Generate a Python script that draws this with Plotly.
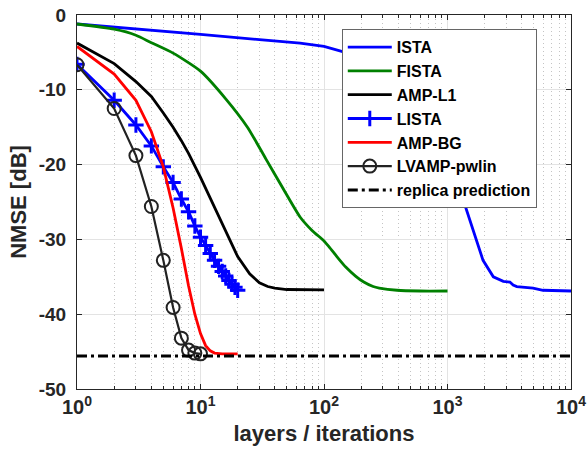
import plotly.graph_objects as go

# ---------------- data ----------------
ista_x = [1, 2, 4, 10, 30, 64, 100, 140, 200, 300, 400, 500, 600, 700, 800, 900,
          1000, 1200, 1340, 1620, 1940, 2350, 2830, 3200, 3400, 3640, 4930, 5930, 10000]
ista_y = [-1.2, -1.6, -2.05, -2.6, -3.3, -3.75, -4.2, -4.9, -5.6, -6.8, -8.2, -9.8,
          -11.5, -13.2, -15.0, -16.9, -18.7, -22.3, -24.7, -28.7, -32.8, -35.0,
          -35.6, -35.7, -36.1, -36.3, -36.5, -36.8, -36.9]

fista_x = [1, 2, 3, 4, 6, 10, 16, 24, 34, 47, 64, 80, 100, 110, 130, 150, 180,
           210, 250, 280, 390, 600, 1000]
fista_y = [-1.2, -1.9, -2.7, -3.7, -5.1, -7.5, -11.2, -15.0, -19.3, -23.3, -27.0,
           -28.8, -30.2, -31.0, -32.5, -33.7, -34.9, -35.7, -36.3, -36.5, -36.8,
           -36.9, -36.9]

ampl1_x = [1, 2, 3, 4, 5, 6, 7, 8, 10, 12, 14, 17, 20, 25, 30, 35, 40, 50, 70, 100]
ampl1_y = [-3.75, -6.5, -8.9, -10.9, -13.1, -15.0, -16.8, -18.5, -21.7, -24.5,
           -26.9, -30.0, -32.3, -34.6, -35.8, -36.3, -36.5, -36.7, -36.75, -36.75]

lista_x = list(range(1, 21))
lista_y = [-6.6, -11.4, -14.7, -17.5, -20.3, -22.4, -24.6, -26.3, -28.2, -29.7,
           -30.8, -31.9, -32.8, -33.6, -34.3, -34.9, -35.5, -36.0, -36.4, -36.8]

ampbg_x = list(range(1, 21))
ampbg_y = [-4.2, -7.9, -11.4, -15.6, -20.3, -25.8, -31.2, -36.2, -40.0, -42.6,
           -44.2, -44.9, -45.2, -45.3, -45.3, -45.3, -45.3, -45.3, -45.3, -45.3]

lvamp_x = list(range(1, 11))
lvamp_y = [-6.65, -12.5, -18.8, -25.6, -32.8, -39.1, -43.2, -44.8, -45.2, -45.3]

replica_x = [1, 10000]
replica_y = [-45.6, -45.6]

x_tickvals = [1, 10, 100, 1000, 10000]
x_ticktext = ["10<sup>0</sup>", "10<sup>1</sup>", "10<sup>2</sup>",
              "10<sup>3</sup>", "10<sup>4</sup>"]
y_tickvals = [0, -10, -20, -30, -40, -50]
y_ticktext = ["0", "-10", "-20", "-30", "-40", "-50"]

# ---------------- figure ----------------
FONT = "Liberation Sans, Arial, Helvetica, sans-serif"
AX = "#262626"

fig = go.Figure()
fig.add_trace(go.Scatter(x=ista_x, y=ista_y, mode="lines", name="ISTA",
                         line=dict(color="#0000ff", width=2.8)))
fig.add_trace(go.Scatter(x=fista_x, y=fista_y, mode="lines", name="FISTA",
                         line=dict(color="#008000", width=2.8, shape="spline", smoothing=0.6)))
fig.add_trace(go.Scatter(x=ampl1_x, y=ampl1_y, mode="lines", name="AMP-L1",
                         line=dict(color="#000000", width=2.8)))
fig.add_trace(go.Scatter(x=lista_x, y=lista_y, mode="lines+markers", name="LISTA",
                         line=dict(color="#0000ff", width=2.8),
                         marker=dict(symbol="cross-thin", size=11,
                                     line=dict(color="#0000ff", width=3))))
fig.add_trace(go.Scatter(x=ampbg_x, y=ampbg_y, mode="lines", name="AMP-BG",
                         line=dict(color="#ff0000", width=2.8)))
fig.add_trace(go.Scatter(x=lvamp_x, y=lvamp_y, mode="lines+markers", name="LVAMP-pwlin",
                         line=dict(color="#222222", width=2.2),
                         marker=dict(symbol="circle-open", size=13,
                                     line=dict(color="#222222", width=2))))
fig.add_trace(go.Scatter(x=replica_x, y=replica_y, mode="lines", name="replica prediction",
                         line=dict(color="#000000", width=3, dash="10px,4px,3px,4px")))

minor_x = [m * 10 ** k for k in range(0, 4) for m in range(2, 10)]

fig.update_layout(
    width=588, height=455,
    margin=dict(l=77, r=17, t=15, b=66),
    plot_bgcolor="white", paper_bgcolor="white",
    font=dict(family=FONT, color=AX),
    showlegend=True,
    legend=dict(
        x=0.536, y=0.962, xanchor="left", yanchor="top",
        bgcolor="white", bordercolor="#666666", borderwidth=1,
        font=dict(family=FONT, size=16, color="#000000", weight="bold"),
        tracegroupgap=0, itemwidth=44,
    ),
    xaxis=dict(
        type="log", range=[0, 4], automargin=False,
        tickmode="array", tickvals=x_tickvals, ticktext=x_ticktext,
        tickfont=dict(family=FONT, size=20, color=AX, weight="bold"),
        ticks="inside", ticklen=5, tickcolor=AX,
        showline=True, linecolor=AX, linewidth=1, mirror="ticks",
        showgrid=True, gridcolor="#e3e3e3", gridwidth=1,
        zeroline=False,
        minor=dict(tickmode="array", tickvals=minor_x, ticks="inside", ticklen=3,
                   tickcolor=AX, showgrid=True, gridcolor="#c4c4c4",
                   griddash="1px,3px", gridwidth=1),
        title=dict(text="layers / iterations", standoff=8,
                   font=dict(family=FONT, size=22, color=AX, weight="bold")),
    ),
    yaxis=dict(
        range=[-50, 0], automargin=False,
        tickmode="array", tickvals=y_tickvals, ticktext=y_ticktext,
        tickfont=dict(family=FONT, size=19, color=AX, weight="bold"),
        ticks="inside", ticklen=5, tickcolor=AX, ticklabelstandoff=6,
        showline=True, linecolor=AX, linewidth=1, mirror="ticks",
        showgrid=True, gridcolor="#e3e3e3", gridwidth=1,
        zeroline=False,
        title=dict(text="NMSE [dB]", standoff=6,
                   font=dict(family=FONT, size=22, color=AX, weight="bold")),
    ),
)

fig.write_html("out.html", config={"displayModeBar": False},
               post_script="document.body.style.margin='0';")
